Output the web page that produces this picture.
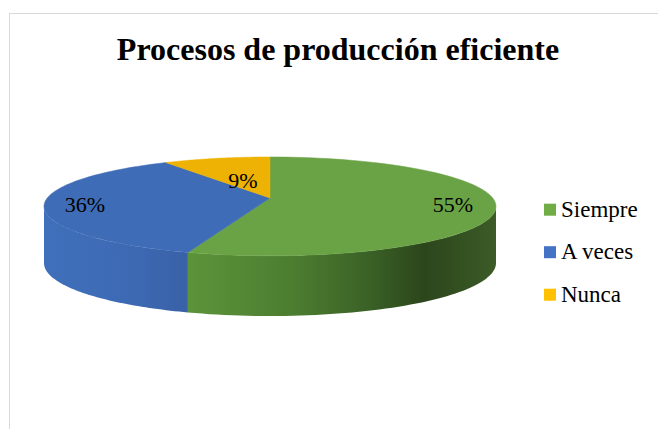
<!DOCTYPE html>
<html>
<head>
<meta charset="utf-8">
<script src="https://cdn.jsdelivr.net/npm/d3@7"></script>
<style>
  body { margin: 0; background: #fff; }
  svg { display: block; }
  text { font-family: "Liberation Serif", "Times New Roman", serif; fill: #000; }
</style>
</head>
<body>
<div id="chart"></div>
<script>
// data
const categories = ["Siempre", "A veces", "Nunca"];
const percents = [55, 36, 9];
const topColors = ["#6aa345", "#3f6cb6", "#edb203"];
const legendColors = ["#70ad47", "#4472c4", "#ffc000"];

const width = 658;
const height = 429;

const svg = d3
  .select("#chart")
  .append("svg")
  .attr("width", width)
  .attr("height", height);

// chart area border
svg
  .append("rect")
  .attr("x", 9.5)
  .attr("y", 13.5)
  .attr("width", 700)
  .attr("height", 500)
  .attr("fill", "#fff")
  .attr("stroke", "#d9d9d9");

svg
  .append("text")
  .attr("x", 338)
  .attr("y", 59.5)
  .attr("text-anchor", "middle")
  .style("font-weight", "bold")
  .style("font-size", "32px")
  .text("Procesos de producción eficiente");

// pie geometry: apex, radii, depth, perspective factors
const ax = 270;
const ay = 198;
const rx = 222.7;
const ry = 48;
const depth = 56;
const persp = 0.17; // back of the disc is further away
const perspSide = 0.07;

const pie = d3
  .pie()
  .sort(null)
  .value(d => d);
const arcs = pie(percents);

// angle clockwise from 12 o'clock -> projected point (dy=1 for the bottom rim)
function pt(a, bottom) {
  const f = 1 / (1 + persp * Math.cos(a));
  const x = ax + rx * Math.sin(a) * f;
  let y = ay - ry * Math.cos(a) * f;
  if (bottom) y += depth / (1 + perspSide * Math.cos(a));
  return [x, y];
}

const defs = svg.append("defs");

// side gradients (light from the left, darkest towards the right)
const sideStops = [
  [
    { o: 0, c: "#5b9339" },
    { o: 0.33, c: "#5b9339" },
    { o: 0.55, c: "#4c7d30" },
    { o: 0.72, c: "#3a6126" },
    { o: 0.84, c: "#2c461c" },
    { o: 1, c: "#3b5b27" }
  ],
  [
    { o: 0, c: "#4070bb" },
    { o: 0.2, c: "#3d69b3" },
    { o: 0.33, c: "#3860a5" },
    { o: 1, c: "#3860a5" }
  ],
  [
    { o: 0, c: "#c99800" },
    { o: 1, c: "#c99800" }
  ]
];
sideStops.forEach((stops, i) => {
  const g = defs
    .append("linearGradient")
    .attr("id", "side" + i)
    .attr("gradientUnits", "userSpaceOnUse")
    .attr("x1", ax - rx * 1.015)
    .attr("x2", ax + rx * 1.015)
    .attr("y1", 0)
    .attr("y2", 0);
  g.selectAll("stop")
    .data(stops)
    .enter()
    .append("stop")
    .attr("offset", d => d.o)
    .attr("stop-color", d => d.c);
});

// outer wall for the visible (front) part of an arc
const frontStart = Math.PI - Math.acos(-persp); // silhouette angles under perspective
function sidePath(a0, a1) {
  const lo = Math.acos(-persp);
  const hi = 2 * Math.PI - lo;
  const s = Math.max(a0, lo);
  const e = Math.min(a1, hi);
  if (e <= s) return null;
  const n = 60;
  const top = d3.range(n + 1).map(k => pt(s + ((e - s) * k) / n, false));
  const bot = d3.range(n + 1).map(k => pt(e - ((e - s) * k) / n, true));
  return "M" + top.concat(bot).map(p => p.join(",")).join("L") + "Z";
}

svg
  .append("g")
  .selectAll("path")
  .data(arcs)
  .enter()
  .append("path")
  .attr("d", d => sidePath(d.startAngle, d.endAngle))
  .attr("fill", (d, i) => "url(#side" + i + ")");

// top face
function topPath(a0, a1) {
  const n = 80;
  const pts = d3.range(n + 1).map(k => pt(a0 + ((a1 - a0) * k) / n, false));
  return "M" + ax + "," + ay + "L" + pts.map(p => p.join(",")).join("L") + "Z";
}

svg
  .append("g")
  .selectAll("path")
  .data(arcs)
  .enter()
  .append("path")
  .attr("d", d => topPath(d.startAngle, d.endAngle))
  .attr("fill", (d, i) => topColors[i])
  .attr("stroke", (d, i) => topColors[i])
  .attr("stroke-width", 0.5);

// data labels
const labelPos = [
  [453, 212],
  [85, 212],
  [243, 188]
];
svg
  .append("g")
  .selectAll("text")
  .data(arcs)
  .enter()
  .append("text")
  .attr("x", (d, i) => labelPos[i][0])
  .attr("y", (d, i) => labelPos[i][1])
  .attr("text-anchor", "middle")
  .style("font-size", "22px")
  .text(d => d.data + "%");

// legend
const legendY = d3
  .scalePoint()
  .domain(categories)
  .range([216.7, 301.7]);

const legend = svg
  .append("g")
  .selectAll("g")
  .data(categories)
  .enter()
  .append("g")
  .attr("transform", d => "translate(544," + legendY(d) + ")");

legend
  .append("rect")
  .attr("x", 0)
  .attr("y", -13)
  .attr("width", 12)
  .attr("height", 12)
  .attr("fill", (d, i) => legendColors[i]);

legend
  .append("text")
  .attr("x", 17)
  .attr("y", 0)
  .style("font-size", "23px")
  .text(d => d);
</script>
</body>
</html>
